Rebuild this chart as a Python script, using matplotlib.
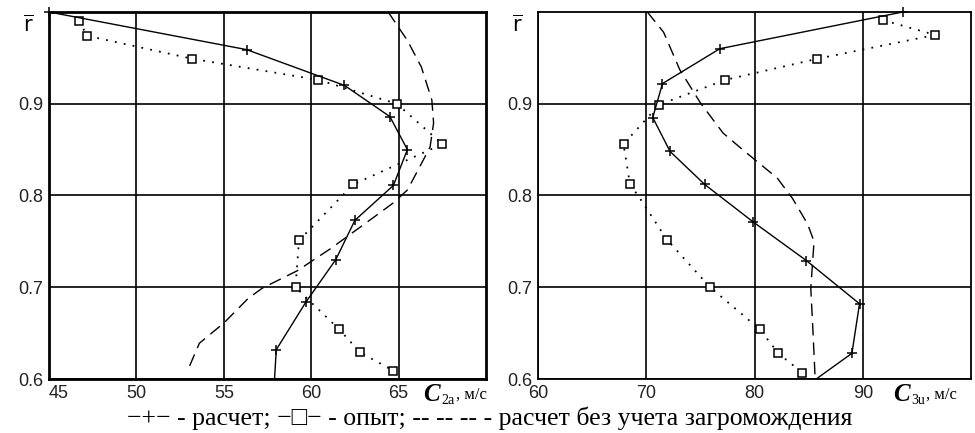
import matplotlib
matplotlib.use('Agg')
import matplotlib.pyplot as plt

# --- data: left panel (C2a, m/s) ---
r_calc_a = [1.0, 0.959, 0.920, 0.886, 0.850, 0.811, 0.773, 0.730, 0.684, 0.632, 0.600]
c_calc_a = [45.0, 56.3, 61.9, 64.5, 65.5, 64.7, 62.5, 61.4, 59.7, 58.0, 57.9]

r_exp_a = [0.990, 0.974, 0.949, 0.926, 0.900, 0.856, 0.812, 0.751, 0.700, 0.654, 0.629, 0.609]
c_exp_a = [46.7, 47.2, 53.2, 60.4, 64.9, 67.5, 62.4, 59.3, 59.1, 61.6, 62.8, 64.7]

r_nob_a = [1.0, 0.969, 0.940, 0.904, 0.879, 0.853, 0.831, 0.806, 0.792, 0.778, 0.742, 0.718, 0.699, 0.688, 0.661, 0.639, 0.608]
c_nob_a = [64.4, 65.5, 66.3, 66.9, 67.0, 66.8, 66.2, 65.5, 64.7, 63.7, 61.1, 59.2, 57.2, 56.4, 55.0, 53.6, 52.9]

# --- data: right panel (C3u, m/s) ---
r_calc_u = [1.0, 0.960, 0.922, 0.885, 0.848, 0.812, 0.771, 0.729, 0.682, 0.628, 0.600]
c_calc_u = [93.7, 76.8, 71.5, 70.6, 72.2, 75.4, 79.9, 84.8, 89.7, 89.0, 85.7]

r_exp_u = [0.991, 0.975, 0.949, 0.926, 0.899, 0.856, 0.812, 0.799, 0.752, 0.700, 0.654, 0.628, 0.607]
c_exp_u = [91.9, 96.7, 85.8, 77.3, 71.2, 67.9, 68.5, 69.3, 71.9, 75.9, 80.5, 82.2, 84.4]
exp_u_marked = [True, True, True, True, True, True, True, False, True, True, True, True, True]

r_nob_u = [1.0, 0.978, 0.937, 0.901, 0.868, 0.849, 0.819, 0.797, 0.769, 0.750, 0.699, 0.652, 0.601]
c_nob_u = [70.1, 71.6, 73.1, 75.0, 77.1, 79.0, 82.1, 83.5, 84.9, 85.5, 85.2, 85.4, 85.6]

yticks = [0.6, 0.7, 0.8, 0.9]
xticks_a = [45, 50, 55, 60, 65]
xticks_u = [60, 70, 80, 90]

fig = plt.figure(figsize=(9.75, 4.33), dpi=100)
ax1 = fig.add_axes([0.0503, 0.1247, 0.4482, 0.8476])
ax2 = fig.add_axes([0.5518, 0.1247, 0.4441, 0.8476])

serif = ['Liberation Serif', 'DejaVu Serif']


def draw(ax, rc, cc, re, ce, rn, cn, xlim, xticks, frame_lw, marked=None):
    ax.set_xlim(*xlim)
    ax.set_ylim(0.6, 1.0)
    ax.set_xticks(xticks)
    ax.set_yticks(yticks)
    ax.set_yticklabels([str(v) for v in yticks])
    ax.grid(True, color='black', linewidth=1.2)
    ax.tick_params(length=0, labelsize=13, pad=4, labelcolor='#222222')
    for lab in ax.get_xticklabels() + ax.get_yticklabels():
        lab.set_family('Liberation Sans')
    for s in ax.spines.values():
        s.set_linewidth(frame_lw)
    # dashed: calculation without blockage
    ax.plot(cn, rn, color='black', linewidth=1.0, dashes=(9, 5), clip_on=False)
    # dotted: experiment
    ax.plot(ce, re, color='black', linewidth=1.3, dashes=(1, 4), clip_on=False)
    if marked is None:
        marked = [True] * len(ce)
    ax.plot([c for c, m in zip(ce, marked) if m], [r for r, m in zip(re, marked) if m],
            linestyle='none', marker='s', markersize=5.5, markerfacecolor='white',
            markeredgecolor='black', markeredgewidth=1.1, clip_on=False)
    # solid: calculation
    ax.plot(cc[:-1], rc[:-1], color='black', linewidth=1.0, marker='+',
            markersize=7, markeredgewidth=1.1, clip_on=False)
    ax.plot(cc[-2:], rc[-2:], color='black', linewidth=1.0, clip_on=False)
    ax.text(-0.035, 0.99, r'$\overline{\mathrm{r}}$', transform=ax.transAxes,
            ha='right', va='top', fontsize=15, family=serif)


draw(ax1, r_calc_a, c_calc_a, r_exp_a, c_exp_a, r_nob_a, c_nob_a, (45, 70), xticks_a, 2.0)
draw(ax2, r_calc_u, c_calc_u, r_exp_u, c_exp_u, r_nob_u, c_nob_u, (60, 100), xticks_u, 1.3,
     marked=exp_u_marked)
ax1.get_xticklabels()[0].set_horizontalalignment('left')

# axis labels
fig.text(0.434, 0.088, 'C', fontsize=18, fontweight='bold', fontstyle='italic', family=serif, va='center')
fig.text(0.453, 0.074, '2a', fontsize=10, family=serif, va='center')
fig.text(0.468, 0.088, ', м/с', fontsize=12, family=serif, va='center')
fig.text(0.916, 0.088, 'C', fontsize=18, fontweight='bold', fontstyle='italic', family=serif, va='center')
fig.text(0.935, 0.074, '3u', fontsize=10, family=serif, va='center')
fig.text(0.950, 0.088, ', м/с', fontsize=12, family=serif, va='center')

fig.text(0.502, 0.035, '−+− - расчет; −□− - опыт; -- -- -- - расчет без учета загромождения',
         ha='center', va='center', fontsize=18.5, family=serif)

fig.savefig('out.png', dpi=100)
